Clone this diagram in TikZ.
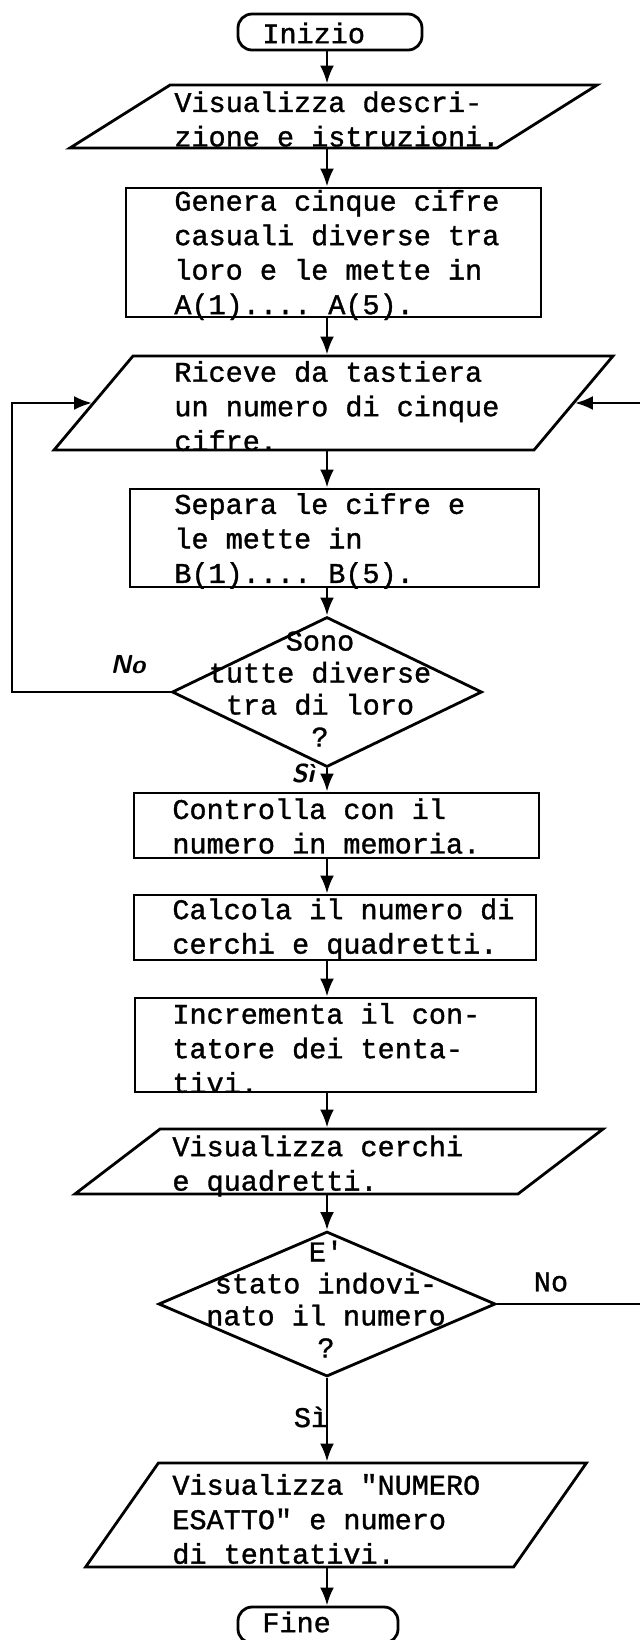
\documentclass[tikz,border=0pt]{standalone}
\usepackage{fontspec}
\setmonofont{Liberation Mono}[FakeBold=1.2]
\usetikzlibrary{shapes.geometric,arrows.meta}
\tikzset{
  box/.style={draw, rectangle, inner sep=0pt},
  io/.style={draw, rectangle, inner sep=0pt, transform shape},
  term/.style={draw, rectangle, rounded corners=7pt, inner sep=0pt},
  dec/.style={draw, diamond, inner sep=0pt},
  txt/.style={font=\ttfamily\fontsize{14.25}{17.25}\selectfont, align=left, anchor=west, inner sep=0pt},
  qtxt/.style={font=\ttfamily\fontsize{14.25}{16}\selectfont, align=center, inner sep=0pt},
  hand/.style={font=\sffamily\bfseries\itshape\fontsize{13}{15}\selectfont, inner sep=0pt}
}
\begin{document}
\begin{tikzpicture}[x=0.5pt,y=-0.5pt,line width=1.4pt,>={Latex[length=9pt,width=7pt]}]
\useasboundingbox (0,0) rectangle (640,1640);
\coordinate (ax) at (327,0); \coordinate (lft) at (12,0); \coordinate (rgt) at (660,0);
% blocchi
\node[term, minimum width=92pt, minimum height=18pt] (ini) at (330,32) {};
\node[io, xslant=1.59, minimum width=213.5pt, minimum height=31.5pt] (vd) at (333.5,116.5) {};
\node[box, minimum width=207.5pt, minimum height=64.5pt] (gen) at (333.5,252.5) {};
\node[io, xslant=0.84, minimum width=240pt, minimum height=47pt] (rx) at (333.5,403) {};
\node[box, minimum width=204.5pt, minimum height=49pt] (sep) at (334.5,538) {};
\node[dec, minimum width=155pt, minimum height=75pt] (d1) at (327,692) {};
\node[box, minimum width=202.5pt, minimum height=32.5pt] (con) at (336.5,825.5) {};
\node[box, minimum width=201pt, minimum height=32.5pt] (cal) at (335,927.5) {};
\node[box, minimum width=200.5pt, minimum height=47pt] (inc) at (335.5,1045) {};
\node[io, xslant=1.31, minimum width=221.5pt, minimum height=32.5pt] (vc) at (339,1161.5) {};
\node[dec, minimum width=168.5pt, minimum height=72.5pt] (d2) at (327,1304) {};
\node[io, xslant=0.70, minimum width=214pt, minimum height=52pt] (ve) at (336,1515) {};
\node[term, minimum width=80pt, minimum height=18pt] (fin) at (318,1625) {};
% testi
\node[txt] (t0) at (261,33) {Inizio};
\node[txt] (t1) at (173,119) {Visualizza descri-\\zione e istruzioni.};
\node[txt] (t2) at (173,255) {Genera cinque cifre\\casuali diverse tra\\loro e le mette in\\A(1).... A(5).};
\node[txt] (t3) at (173,406) {Riceve da tastiera\\un numero di cinque\\cifre.};
\node[txt] (t4) at (173,541) {Separa le cifre e\\le mette in\\B(1).... B(5).};
\node[qtxt] (q1) at (320,689) {Sono\\tutte diverse\\tra di loro\\?};
\node[txt] (t5) at (171,826) {Controlla con il\\numero in memoria.};
\node[txt] (t6) at (171,929) {Calcola il numero di\\cerchi e quadretti.};
\node[txt] (t7) at (171,1048) {Incrementa il con-\\tatore dei tenta-\\tivi.};
\node[txt] (t8) at (171,1166) {Visualizza cerchi\\e quadretti.};
\node[qtxt] (q2) at (326,1299) {E'\\stato indovi-\\nato il numero\\?};
\node[txt] (t9) at (171,1519) {Visualizza "NUMERO\\ESATTO" e numero\\di tentativi.};
\node[txt] (t10) at (261,1622) {Fine};
% frecce
\foreach \a/\b in {ini/vd,vd/gen,gen/rx,rx/sep,sep/d1,d1/con,con/cal,cal/inc,inc/vc,vc/d2,d2/ve,ve/fin} { \draw[->] (\a.south -| ax) -- (\b.north -| ax); }
\draw[->] (d1.west) -- (d1.west -| lft) |- (rx.west);
\draw[->] (d2.east) -- (d2.east -| rgt) |- (rx.east);
\node[hand] (no1) at (128,665) {No}; \node[hand] (si1) at (303,773) {Sì};
\node[txt, anchor=center] (no2) at (551,1282) {No}; \node[txt, anchor=center] (si2) at (311,1417) {Sì};
\end{tikzpicture}
\end{document}
